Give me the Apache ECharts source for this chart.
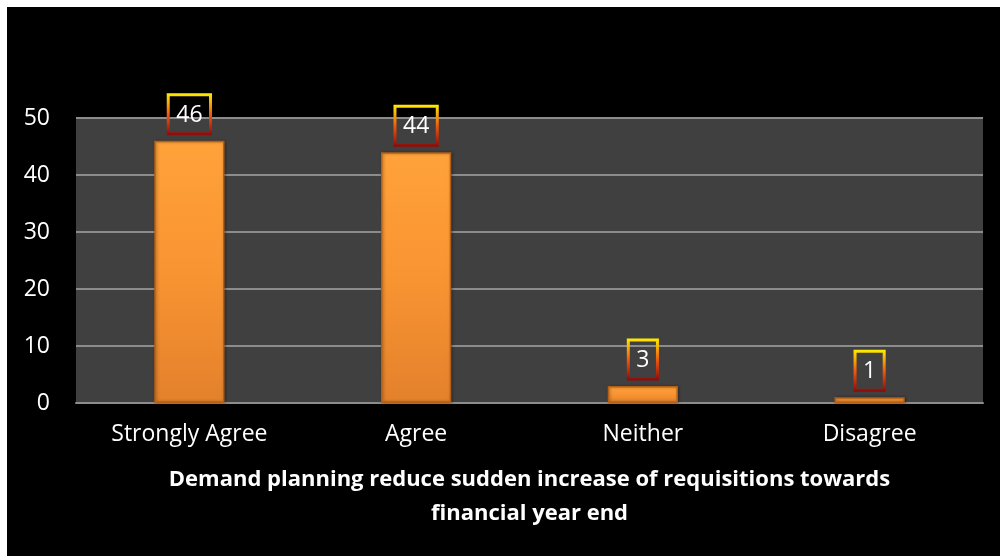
<!DOCTYPE html>
<html>
<head>
<meta charset="utf-8">
<script src="https://cdn.jsdelivr.net/npm/echarts@6/dist/echarts.min.js"></script>
<style>
  html, body { margin: 0; padding: 0; background: #ffffff; }
  #chart { position: absolute; left: 7px; top: 7px; width: 993px; height: 549px; }
</style>
</head>
<body>
<div id="chart"></div>
<script>
// Survey responses
const categories = ['Strongly Agree', 'Agree', 'Neither', 'Disagree'];
const responses = [46, 44, 3, 1];
const yTicks = { min: 0, max: 50, interval: 10 };
const axisTitle = 'Demand planning reduce sudden increase of requisitions towards\nfinancial year end';

const FONT = '"Open Sans", "DejaVu Sans", sans-serif';

const chart = echarts.init(document.getElementById('chart'));

chart.setOption({
  backgroundColor: '#000000',
  animation: false,
  grid: {
    left: 69, right: 17, top: 111, bottom: 153,
    show: true, backgroundColor: '#404040', borderWidth: 0
  },
  xAxis: {
    type: 'category',
    data: categories,
    axisLine: { show: true, lineStyle: { color: '#8c8c8c', width: 2 } },
    axisTick: { show: false },
    axisLabel: { color: '#ffffff', fontSize: 23, fontFamily: FONT, margin: 20 },
    name: axisTitle,
    nameLocation: 'middle',
    nameGap: 60,
    nameTextStyle: {
      color: '#ffffff', fontSize: 22, fontWeight: 'bold', fontFamily: FONT,
      lineHeight: 34, verticalAlign: 'top'
    }
  },
  yAxis: {
    type: 'value',
    min: yTicks.min, max: yTicks.max, interval: yTicks.interval,
    axisLine: { show: false },
    axisTick: { show: false },
    axisLabel: { color: '#ffffff', fontSize: 23, fontFamily: FONT, margin: 26 },
    splitLine: { lineStyle: { color: '#8c8c8c', width: 2 } }
  },
  series: [{
    type: 'bar',
    data: responses,
    barWidth: '31%',
    itemStyle: {
      // lighter at the top, deeper orange towards the base
      color: new echarts.graphic.LinearGradient(0, 0, 0, 1, [
        { offset: 0, color: '#ffa23a' },
        { offset: 0.5, color: '#f99432' },
        { offset: 1, color: '#e3812c' }
      ]),
      borderColor: '#b35f17',
      borderWidth: 1.5,
      shadowColor: 'rgba(0,0,0,0.35)',
      shadowBlur: 3,
      shadowOffsetX: 1
    },
    label: {
      show: true,
      position: 'top',
      distance: 7,
      color: '#ffffff',
      fontSize: 23,
      fontFamily: FONT,
      lineHeight: 25,
      padding: [8, 8, 6, 8],
      borderWidth: 1.5,
      borderColor: new echarts.graphic.LinearGradient(0, 0, 0, 1, [
        { offset: 0, color: '#ffee00' },
        { offset: 0.5, color: '#f05a10' },
        { offset: 1, color: '#8a0a0a' }
      ]),
      backgroundColor: 'transparent'
    }
  }]
});
</script>
</body>
</html>
